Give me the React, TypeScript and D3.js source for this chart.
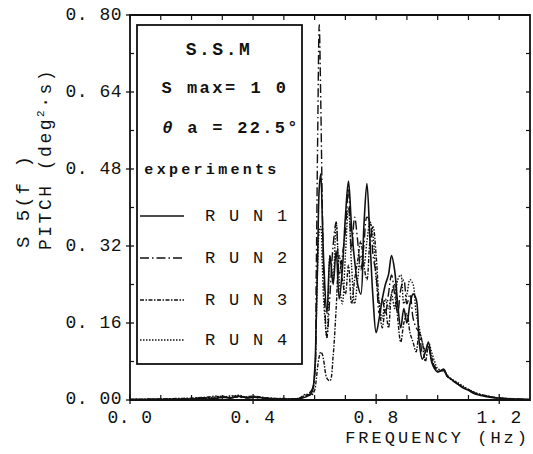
import React from "react";
import * as d3 from "d3";

const FREQ = [
  0, 0.05, 0.1, 0.15, 0.2, 0.25, 0.28, 0.3, 0.33, 0.35, 0.38, 0.4, 0.45, 0.5,
  0.55, 0.57, 0.59, 0.6, 0.605, 0.61, 0.615, 0.62, 0.625, 0.63,
  0.64, 0.65, 0.66, 0.67, 0.68, 0.69, 0.7, 0.71, 0.72, 0.73,
  0.74, 0.75, 0.76, 0.77, 0.78, 0.79, 0.8, 0.81, 0.82, 0.83,
  0.84, 0.85, 0.86, 0.87, 0.88, 0.89, 0.9, 0.91, 0.92, 0.93,
  0.94, 0.95, 0.96, 0.97, 0.98, 0.99, 1.0, 1.02, 1.03, 1.04,
  1.06, 1.08, 1.1, 1.12, 1.15, 1.18, 1.2, 1.25, 1.3,
];

const RUN1 = [
  0.001, 0.001, 0.001, 0.002, 0.002, 0.004, 0.003, 0.006, 0.004, 0.008, 0.005, 0.006, 0.003, 0.002,
  0.003, 0.006, 0.015, 0.06, 0.16, 0.3, 0.44, 0.47, 0.38, 0.28,
  0.18, 0.3, 0.24, 0.31, 0.21, 0.27, 0.38, 0.455, 0.36, 0.29,
  0.24, 0.22, 0.36, 0.45, 0.33, 0.21, 0.14, 0.17, 0.21, 0.24,
  0.26, 0.3, 0.27, 0.2, 0.15, 0.19, 0.16, 0.2, 0.22, 0.21,
  0.12, 0.085, 0.1, 0.12, 0.08, 0.065, 0.058, 0.064, 0.05, 0.045,
  0.036, 0.026, 0.02, 0.013, 0.008, 0.005, 0.004, 0.002, 0.001,
];

const RUN2 = [
  0.001, 0.001, 0.002, 0.001, 0.003, 0.005, 0.004, 0.007, 0.005, 0.006, 0.004, 0.005, 0.003, 0.002,
  0.002, 0.008, 0.02, 0.05, 0.25, 0.55, 0.78, 0.62, 0.4, 0.25,
  0.13, 0.22, 0.32, 0.37, 0.26, 0.3, 0.35, 0.44, 0.31, 0.38,
  0.33, 0.27, 0.32, 0.38, 0.37, 0.3, 0.26, 0.18, 0.21, 0.18,
  0.22, 0.26, 0.22, 0.18, 0.23, 0.25, 0.2, 0.22, 0.17, 0.15,
  0.14, 0.1, 0.11, 0.11, 0.08, 0.07, 0.06, 0.062, 0.052, 0.045,
  0.035, 0.027, 0.021, 0.015, 0.009, 0.006, 0.004, 0.002, 0.001,
];

const RUN3 = [
  0.001, 0.002, 0.002, 0.003, 0.004, 0.006, 0.008, 0.005, 0.009, 0.006, 0.007, 0.008, 0.004, 0.003,
  0.004, 0.012, 0.01, 0.02, 0.04, 0.07, 0.09, 0.1, 0.095, 0.08,
  0.045, 0.04, 0.09, 0.19, 0.3, 0.25, 0.22, 0.28, 0.2, 0.25,
  0.29, 0.33, 0.28, 0.25, 0.33, 0.36, 0.3, 0.2, 0.15, 0.19,
  0.15, 0.22, 0.24, 0.17, 0.12, 0.16, 0.18, 0.14, 0.12, 0.1,
  0.14, 0.12, 0.08, 0.11, 0.09, 0.07, 0.06, 0.06, 0.05, 0.044,
  0.035, 0.028, 0.022, 0.014, 0.01, 0.006, 0.004, 0.002, 0.001,
];

const RUN4 = [
  0.001, 0.001, 0.002, 0.002, 0.003, 0.005, 0.006, 0.008, 0.006, 0.01, 0.006, 0.007, 0.004, 0.002,
  0.003, 0.01, 0.012, 0.05, 0.15, 0.28, 0.35, 0.36, 0.28, 0.2,
  0.13, 0.3, 0.25, 0.37, 0.25, 0.2, 0.3, 0.4, 0.28, 0.2,
  0.25, 0.3, 0.28, 0.33, 0.37, 0.34, 0.25, 0.2, 0.17, 0.21,
  0.19, 0.22, 0.19, 0.25, 0.26, 0.2, 0.22, 0.25, 0.24, 0.18,
  0.15, 0.12, 0.1, 0.12, 0.1, 0.08, 0.065, 0.06, 0.052, 0.046,
  0.038, 0.03, 0.022, 0.016, 0.01, 0.006, 0.004, 0.002, 0.001,
];

const SERIES_NAMES = ["R U N 1", "R U N 2", "R U N 3", "R U N 4"];
const SERIES_VALUES = [RUN1, RUN2, RUN3, RUN4];
const SERIES_DASH = ["none", "9 3 1.5 3", "4 1.5 1.5 1.5", "1.5 1.5"];

const Y_LABEL_TICKS = [0, 0.16, 0.32, 0.48, 0.64, 0.8];
const Y_LABELS = ["0. 00", "0. 16", "0. 32", "0. 48", "0. 64", "0. 80"];
const Y_MINOR = [0.08, 0.24, 0.4, 0.56, 0.72];
const X_LABEL_TICKS = [0, 0.4, 0.8, 1.2];
const X_LABELS = ["0. 0", "0. 4", "0. 8", "1. 2"];
const X_MINOR = [0.1, 0.2, 0.3, 0.5, 0.6, 0.7, 0.9, 1.0, 1.1];

const W = 533;
const H = 454;
const L = 130, R = 530, T = 15, B = 400;
const FONT = "'Liberation Mono', 'DejaVu Sans Mono', monospace";

export default function App() {
  const x = d3.scaleLinear().domain([0, 1.3]).range([L, R]);
  const y = d3.scaleLinear().domain([0, 0.8]).range([B, T]);
  const line = d3
    .line<number>()
    .x((_, i) => x(FREQ[i]))
    .y((d) => y(d))
    .curve(d3.curveCatmullRom.alpha(0.5));

  const legendRows = [216, 258, 300, 340];

  return (
    <svg
      width={W}
      height={H}
      style={{ position: "absolute", left: 0, top: 0, background: "#fff" }}
      fontFamily={FONT}
    >
      <rect x={0} y={0} width={W} height={H} fill="#fff" />
      {SERIES_VALUES.map((vals, k) => (
        <path
          key={k}
          d={line(vals.slice(0, FREQ.length)) || ""}
          fill="none"
          stroke="#111"
          strokeWidth={k === 0 ? 1.6 : 1.4}
          strokeDasharray={SERIES_DASH[k]}
        />
      ))}
      <path
        d={`M${L},${T}H${R}V${B}H${L}Z`}
        fill="none"
        stroke="#111"
        strokeWidth={1.8}
      />
      {Y_LABEL_TICKS.map((t, i) => (
        <g key={"yl" + i}>
          <line x1={L - 4} x2={L + 4} y1={y(t)} y2={y(t)} stroke="#111" strokeWidth={1.3} />
          <line x1={R - 4} x2={R} y1={y(t)} y2={y(t)} stroke="#111" strokeWidth={1.3} />
          <text
            x={L - 8}
            y={y(t) - (t === 0 ? 1 : 0)}
            textAnchor="end"
            dominantBaseline="central"
            fontSize={18}
            letterSpacing={0.5}
            fill="#111"
          >
            {Y_LABELS[i]}
          </text>
        </g>
      ))}
      {Y_MINOR.map((t, i) => (
        <g key={"ym" + i}>
          <line x1={L} x2={L + 4} y1={y(t)} y2={y(t)} stroke="#111" strokeWidth={1.2} />
          <line x1={R - 4} x2={R} y1={y(t)} y2={y(t)} stroke="#111" strokeWidth={1.2} />
        </g>
      ))}
      {X_LABEL_TICKS.map((t, i) => (
        <g key={"xl" + i}>
          <line x1={x(t)} x2={x(t)} y1={B - 6} y2={B + 4} stroke="#111" strokeWidth={1.3} />
          <line x1={x(t)} x2={x(t)} y1={T} y2={T + 5} stroke="#111" strokeWidth={1.3} />
          <text
            x={x(t)}
            y={B + 23}
            textAnchor="middle"
            fontSize={18}
            letterSpacing={0.5}
            fill="#111"
          >
            {X_LABELS[i]}
          </text>
        </g>
      ))}
      {X_MINOR.map((t, i) => (
        <g key={"xm" + i}>
          <line x1={x(t)} x2={x(t)} y1={B - 5} y2={B} stroke="#111" strokeWidth={1.2} />
          <line x1={x(t)} x2={x(t)} y1={T} y2={T + 5} stroke="#111" strokeWidth={1.2} />
        </g>
      ))}
      <text
        x={R}
        y={B + 43}
        textAnchor="end"
        fontSize={17}
        letterSpacing={3}
        fill="#111"
      >
        FREQUENCY (Hz)
      </text>
      <text
        transform={`translate(29,248) rotate(-90)`}
        textAnchor="start"
        fontSize={19}
        letterSpacing={2}
        fill="#111"
      >
        S 5(f )
      </text>
      <text
        transform={`translate(51,250) rotate(-90)`}
        textAnchor="start"
        fontSize={18}
        letterSpacing={2.5}
        fill="#111"
      >
        PITCH (deg
        <tspan fontSize={11} dy={-7}>2</tspan>
        <tspan dy={7}>·s)</tspan>
      </text>
      <rect
        x={137}
        y={25}
        width={165}
        height={339}
        fill="#fff"
        stroke="#111"
        strokeWidth={1.8}
      />
      <text x={219} y={50} textAnchor="middle" dominantBaseline="central" fontSize={18} fontWeight="bold" letterSpacing={2.5} fill="#111">
        S.S.M
      </text>
      <text x={225} y={88} textAnchor="middle" dominantBaseline="central" fontSize={17} fontWeight="bold" letterSpacing={2.5} fill="#111">
        S max= 1 0
      </text>
      <text x={231} y={128} textAnchor="middle" dominantBaseline="central" fontSize={17} fontWeight="bold" letterSpacing={2.3} fill="#111">
        <tspan fontStyle="italic">θ</tspan> a = 22.5°
      </text>
      <text x={212} y={170} textAnchor="middle" dominantBaseline="central" fontSize={15} fontWeight="bold" letterSpacing={3.3} fill="#111">
        experiments
      </text>
      {SERIES_NAMES.map((name, k) => (
        <g key={"lg" + k}>
          <line
            x1={140}
            x2={184}
            y1={legendRows[k]}
            y2={legendRows[k]}
            stroke="#111"
            strokeWidth={1.4}
            strokeDasharray={SERIES_DASH[k]}
          />
          <text
            x={205}
            y={legendRows[k]}
            dominantBaseline="central"
            fontSize={17}
            letterSpacing={1.8}
            fill="#111"
          >
            {name}
          </text>
        </g>
      ))}
    </svg>
  );
}
